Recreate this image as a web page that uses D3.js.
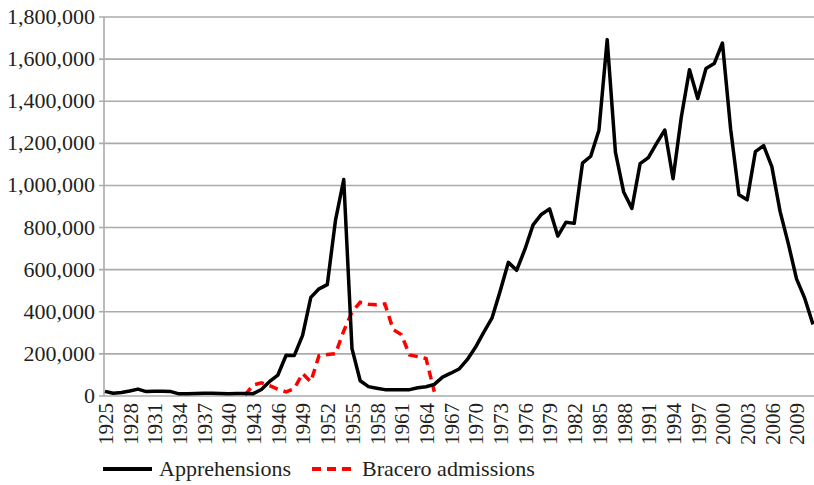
<!DOCTYPE html>
<html>
<head>
<meta charset="utf-8">
<script src="https://cdn.jsdelivr.net/npm/d3@7"></script>
<style>
body { margin: 0; background: #fff; }
text { font-family: "Liberation Serif", "Times New Roman", serif; fill: #231f20; }
</style>
</head>
<body>
<svg id="chart" width="814" height="485"></svg>
<script>
// apprehensions, one value per year 1925-2011
var years = [1925,1926,1927,1928,1929,1930,1931,1932,1933,1934,1935,1936,1937,1938,1939,
  1940,1941,1942,1943,1944,1945,1946,1947,1948,1949,1950,1951,1952,1953,1954,1955,1956,
  1957,1958,1959,1960,1961,1962,1963,1964,1965,1966,1967,1968,1969,1970,1971,1972,1973,
  1974,1975,1976,1977,1978,1979,1980,1981,1982,1983,1984,1985,1986,1987,1988,1989,1990,
  1991,1992,1993,1994,1995,1996,1997,1998,1999,2000,2001,2002,2003,2004,2005,2006,2007,
  2008,2009,2010,2011];
var apprehensions = [22199,12735,16393,23566,32711,20880,22276,22735,20949,10319,11016,11728,
  13054,12851,12037,10492,11294,11784,11175,31174,69164,99591,193657,192779,288253,468339,
  509040,528815,835311,1028246,225186,72442,44451,37242,30196,29651,29817,30272,39124,43844,
  55340,89751,108327,128000,172391,231116,302517,369495,498123,634777,596796,696039,812541,
  862217,888729,759420,825290,819919,1105670,1138566,1262435,1692544,1158030,969214,891147,
  1103353,1132033,1199560,1263490,1031668,1324202,1549876,1412953,1555776,1579010,1676438,
  1266214,955310,931557,1160395,1189075,1089092,876704,723825,556041,463382,340252];

// bracero admissions 1942-1965
var braceroYears = [1942,1943,1944,1945,1946,1947,1948,1949,1950,1951,1952,1953,1954,1955,
  1956,1957,1958,1959,1960,1961,1962,1963,1964,1965];
var bracero = [4203,52098,62170,49454,32043,19632,35345,107000,67500,192000,197100,201380,
  309033,398650,445197,436049,432857,437643,315846,291420,194978,186865,177736,20286];

var yTicks = [0,200000,400000,600000,800000,1000000,1200000,1400000,1600000,1800000];
var seriesNames = ["Apprehensions","Bracero admissions"];

var svg = d3.select("#chart");
var plotLeft = 104, plotRight = 814, plotTop = 17, plotBottom = 396;

var x = d3.scalePoint().domain(years).range([105, 813]);
var y = d3.scaleLinear().domain([0,1800000]).range([plotBottom, plotTop]);

// gridlines
svg.append("g").selectAll("line").data(yTicks).enter().append("line")
  .attr("x1", plotLeft - 5).attr("x2", plotRight)
  .attr("y1", function(d){ return y(d); }).attr("y2", function(d){ return y(d); })
  .style("stroke", "#ababab").style("stroke-width", 1.6);

// left axis line
svg.append("line").attr("x1", plotLeft).attr("x2", plotLeft).attr("y1", plotTop).attr("y2", plotBottom)
  .style("stroke", "#ababab").style("stroke-width", 1.6);

// y labels
svg.append("g").selectAll("text").data(yTicks).enter().append("text")
  .attr("x", 95).attr("y", function(d){ return y(d) + 7; })
  .attr("text-anchor", "end").style("font-size", "22px")
  .text(function(d){ return d3.format(",")(d); });

// x labels every 3 years
var xAxis = d3.axisBottom(x)
  .tickValues(years.filter(function(d){ return (d - 1925) % 3 == 0; }))
  .tickSize(0).tickPadding(0);
var gx = svg.append("g").attr("transform", "translate(0," + plotBottom + ")").call(xAxis);
gx.select(".domain").remove();
gx.selectAll("text")
  .attr("transform", "rotate(-90)")
  .attr("x", -7).attr("y", 0).attr("dy", "0.35em")
  .style("text-anchor", "end").style("font-size", "21px")
  .style("font-family", "Liberation Serif, serif").style("fill", "#231f20");

var line = d3.line()
  .x(function(d){ return x(d[0]); })
  .y(function(d){ return y(d[1]); });

svg.append("path")
  .datum(braceroYears.map(function(d, i){ return [d, bracero[i]]; }))
  .attr("d", line)
  .style("fill", "none").style("stroke", "#ff0000").style("stroke-width", 3.5)
  .style("stroke-dasharray", "9,6");

svg.append("path")
  .datum(years.map(function(d, i){ return [d, apprehensions[i]]; }))
  .attr("d", line)
  .style("fill", "none").style("stroke", "#000").style("stroke-width", 3.5)
  .style("stroke-linejoin", "round");

// legend
var legend = svg.append("g");
legend.append("line").attr("x1", 103).attr("x2", 152).attr("y1", 469).attr("y2", 469)
  .style("stroke", "#000").style("stroke-width", 4);
legend.append("text").attr("x", 159).attr("y", 476).style("font-size", "22px").text(seriesNames[0]);
legend.append("line").attr("x1", 312).attr("x2", 357).attr("y1", 469).attr("y2", 469)
  .style("stroke", "#ff0000").style("stroke-width", 4).style("stroke-dasharray", "9,6");
legend.append("text").attr("x", 362).attr("y", 476).style("font-size", "22px").text(seriesNames[1]);
</script>
</body>
</html>
